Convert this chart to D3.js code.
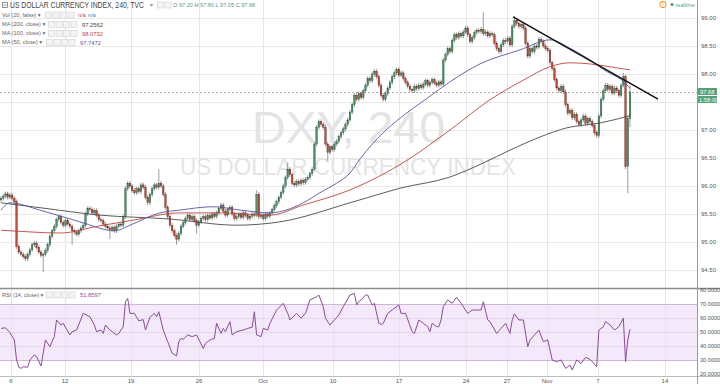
<!DOCTYPE html>
<html><head><meta charset="utf-8">
<script src="https://cdn.jsdelivr.net/npm/d3@7"></script>
<style>body{margin:0;background:#fff}svg{display:block;font-family:"Liberation Sans",Arial,"DejaVu Sans",sans-serif}</style>
</head><body><svg id="c" width="720" height="384"></svg>
<script>
// ---- data (4h bars, index 0..283) ----
const firstOpen = 95.75;
const closes = [
95.78,95.82,95.86,95.80,95.84,95.78,95.72,94.92,94.82,94.78,
94.74,94.70,94.78,94.86,94.95,94.98,94.90,94.82,94.76,94.78,
94.85,94.95,95.10,95.20,95.28,95.40,95.45,95.35,95.30,95.38,
95.32,95.28,95.20,95.18,95.14,95.20,95.25,95.30,95.50,95.60,
95.58,95.52,95.56,95.48,95.40,95.38,95.32,95.28,95.25,95.22,
95.26,95.20,95.28,95.32,95.30,95.45,95.95,96.05,96.00,95.92,
95.88,95.95,95.90,96.02,95.98,95.80,95.70,95.85,95.95,96.02,
95.98,96.05,96.00,95.85,95.62,95.45,95.30,95.20,95.12,95.05,
95.15,95.28,95.35,95.42,95.48,95.40,95.45,95.38,95.30,95.36,
95.42,95.45,95.40,95.47,95.43,95.50,95.46,95.52,95.60,95.66,
95.55,95.48,95.58,95.62,95.50,95.42,95.45,95.50,95.44,95.52,
95.48,95.42,95.46,95.50,95.48,95.85,95.45,95.48,95.42,95.50,
95.46,95.52,95.58,95.65,95.72,95.80,95.88,96.00,96.15,96.30,
96.20,96.05,96.02,96.08,96.04,96.10,96.06,96.12,96.15,96.22,
96.30,96.75,97.05,97.15,97.10,97.05,96.75,96.60,96.70,96.65,
96.75,96.80,96.88,96.95,97.02,97.10,97.18,97.32,97.45,97.62,
97.55,97.65,97.58,97.70,97.80,97.92,97.88,98.00,98.05,97.95,
97.80,97.62,97.55,97.65,97.75,97.85,97.95,98.02,98.08,97.98,
98.02,97.92,97.85,97.78,97.72,97.70,97.78,97.74,97.80,97.76,
97.82,97.88,97.80,97.85,97.90,97.84,97.80,97.86,97.82,98.25,
98.35,98.45,98.40,98.60,98.70,98.65,98.72,98.68,98.75,98.82,
98.70,98.58,98.65,98.74,98.78,98.76,98.80,98.72,98.75,98.68,
98.72,98.70,98.55,98.45,98.40,98.52,98.60,98.58,98.64,98.52,
98.85,98.95,98.90,98.85,98.88,98.82,98.55,98.32,98.45,98.40,
98.50,98.48,98.62,98.58,98.50,98.45,98.42,98.20,98.10,97.90,
97.75,97.70,97.78,97.68,97.45,97.30,97.35,97.22,97.28,97.15,
97.10,97.18,97.25,97.12,97.20,97.15,97.08,96.95,96.90,97.25,
97.55,97.70,97.80,97.72,97.78,97.66,97.75,97.70,97.62,97.80,
97.95,96.35,97.20,97.68];
const wickSize = 0.04;
const spikeHighs = [[71,96.30],[115,95.92],[129,96.42],[217,99.10],[231,99.04],[280,98.02],[282,97.25],[283,97.80]];
const spikeLows = [[19,94.46],[32,94.95],[49,95.05],[79,94.95],[88,95.15],[147,96.45],[281,96.30],[282,95.87],[283,97.05]];

const ma200 = [[0,95.70],[18,95.61],[44.5,95.48],[76,95.41],[106,95.30],[125.5,95.36],[157,95.70],[164.7,95.79],[179.5,95.96],[202,96.16],[216.9,96.41],[229,96.64],[242.5,96.875],[254.7,97.04],[269.5,97.125],[283,97.2562]];
const ma100 = [[0,95.21],[13,95.18],[26.5,95.16],[44.5,95.29],[59.4,95.39],[80.5,95.52],[98.5,95.52],[121,95.48],[136,95.66],[157,95.93],[182.7,96.46],[202,97.00],[220,97.54],[235,97.89],[247,98.13],[256,98.20],[265,98.18],[277,98.11],[283,98.0732]];
const ma50 = [[0,95.57],[4,95.70],[17.5,95.57],[35.5,95.36],[51.3,95.20],[58,95.30],[71.5,95.52],[80.5,95.57],[95.4,95.63],[107.5,95.57],[121,95.52],[136,95.70],[143.5,95.88],[151,96.05],[157,96.23],[161.5,96.48],[171.9,96.95],[179.5,97.21],[190.8,97.54],[202,97.86],[215.5,98.18],[233.5,98.43],[247,98.61],[256,98.46],[265,98.25],[272.7,98.04],[279,97.90],[283,97.7472]];

const rsi = [[0,52.6],[2,53.0],[4,49.5],[6,44.3],[7,30.0],[8,24.8],[9,24.0],[10,25.2],[12,24.8],[13,30.0],[15,33.6],[16,32.4],[18,25.7],[20,44.3],[22,39.5],[24,46.7],[25,58.6],[27,55.0],[28,56.2],[31,47.9],[32,50.2],[34,51.4],[37,63.3],[40,60.9],[42,55.0],[43,50.2],[45,51.4],[46,49.0],[47,55.0],[49,51.4],[52,47.9],[53,49.0],[55,53.8],[56,71.7],[57,74.0],[58,63.3],[60,63.3],[62,58.0],[64,58.8],[65,51.4],[67,60.5],[69,63.3],[70,60.9],[71,64.5],[73,51.4],[75,43.1],[77,34.8],[79,32.9],[80,43.1],[81,45.5],[82,44.8],[84,47.9],[86,46.7],[88,47.9],[91,38.3],[92,41.9],[94,44.3],[96,45.5],[97,56.2],[99,49.0],[100,52.6],[101,50.2],[103,57.4],[104,47.9],[106,50.2],[109,51.4],[111,52.6],[113,53.4],[114,64.5],[115,47.9],[117,46.7],[118,52.6],[120,51.4],[121,56.2],[124,65.7],[127,70.5],[129,63.3],[130,58.6],[133,63.3],[135,59.8],[137,63.3],[139,72.9],[142,75.2],[143,76.4],[145,68.1],[146,59.8],[148,55.0],[150,58.6],[152,62.1],[154,68.1],[157,76.4],[159,77.6],[160,69.3],[161,71.7],[162,72.9],[164,76.4],[165,76.4],[167,69.3],[168,70.5],[170,56.2],[171,55.5],[172,56.2],[174,63.3],[176,65.7],[179,69.3],[180,63.3],[182,63.3],[185,50.2],[186,49.0],[188,58.6],[190,56.2],[192,53.8],[193,50.2],[194,56.2],[196,53.8],[197,53.8],[198,58.6],[199,68.1],[201,72.9],[203,70.5],[205,74.8],[207,70.5],[210,63.3],[212,65.7],[216,65.7],[217,71.7],[219,58.6],[220,57.4],[223,49.0],[225,52.6],[227,56.2],[229,49.0],[230,58.6],[231,62.9],[233,58.6],[235,58.6],[237,39.5],[238,44.3],[242,51.4],[244,43.1],[246,44.3],[248,30.0],[250,28.8],[252,30.0],[254,24.0],[256,26.4],[257,22.9],[259,30.0],[261,27.6],[263,31.9],[265,30.5],[268,25.2],[269,51.4],[271,53.8],[272,57.4],[274,55.0],[276,51.4],[278,53.8],[280,59.8],[281,28.8],[282,44.3],[283,51.8597]];

const trend = [[230.4,99.02],[295.6,97.55]];
const lastPrice = 97.68;
const priceTicks = [94.5,95,95.5,96,96.5,97,97.5,98,98.5,99];
const priceLabelTicks = [94.5,95,95.5,96,96.5,97,98,98.5,99];
const rsiTicks = [20,30,40,50,60,70,80];
const dateTickBars = [4.5,28.8,58.5,89.1,117.9,149.4,179.1,209.2,227.7,245.7,268.6,298.7];
const dateTickLabels = ["6","12","19","26","Oct","10","17","24","27","Nov","7","14"];

// ---- drawing ----
const svg = d3.select("#c");
const axisX = 697, paneBottom = 288, bottom = 376;
const x = d3.scaleLinear().domain([0,283]).range([1,630]);
const y = d3.scaleLinear().domain([94.5,99]).range([270,18]);
const yr = d3.scaleLinear().domain([20,80]).range([374,290]);

const defs = svg.append("defs");
defs.append("clipPath").attr("id","pc").append("rect").attr("x",0).attr("y",0).attr("width",axisX).attr("height",paneBottom);
defs.append("clipPath").attr("id","rc").append("rect").attr("x",0).attr("y",paneBottom).attr("width",axisX).attr("height",bottom-paneBottom);

// RSI band
svg.append("rect").attr("x",0).attr("width",axisX).attr("y",yr(70)).attr("height",yr(30)-yr(70)).attr("fill","#f4e8fb");

// grids
const g = svg.append("g");
g.selectAll(".vg").data(dateTickBars).join("line")
 .attr("x1",d=>Math.round(x(d))+0.5).attr("x2",d=>Math.round(x(d))+0.5).attr("y1",0).attr("y2",bottom)
 .attr("stroke","#e6e6e6").attr("stroke-width",1);
g.selectAll(".hg").data(priceTicks).join("line")
 .attr("x1",0).attr("x2",axisX).attr("y1",d=>Math.round(y(d))+0.5).attr("y2",d=>Math.round(y(d))+0.5)
 .attr("stroke","#e9e9e9");
g.selectAll(".rg").data(rsiTicks.filter(d=>d>20&&d<80)).join("line")
 .attr("x1",0).attr("x2",axisX).attr("y1",d=>Math.round(yr(d))+0.5).attr("y2",d=>Math.round(yr(d))+0.5)
 .attr("stroke",d=>(d===30||d===70)?"#cdb6d8":"#e3d7ea");

// watermark
svg.append("text").attr("x",252).attr("y",143).attr("font-size",44).attr("fill","#e4e4e4")
 .attr("textLength",193).attr("lengthAdjust","spacingAndGlyphs").text("DXY, 240");
svg.append("text").attr("x",180).attr("y",175).attr("font-size",24).attr("fill","#e4e4e4")
 .attr("textLength",336).attr("lengthAdjust","spacingAndGlyphs").text("US DOLLAR CURRENCY INDEX");

// last price dashed line
svg.append("line").attr("x1",0).attr("x2",axisX).attr("y1",Math.round(y(lastPrice))+0.5).attr("y2",Math.round(y(lastPrice))+0.5)
 .attr("stroke","#9a9a9a").attr("stroke-dasharray","2,2").attr("stroke-width",0.8);

// candles
const bars = closes.map((c,i)=>{
  const o = i===0 ? firstOpen : closes[i-1];
  return {i,o,c,h:Math.max(o,c)+wickSize,l:Math.min(o,c)-wickSize};
});
spikeHighs.forEach(([i,v])=>bars[i].h=v);
spikeLows.forEach(([i,v])=>bars[i].l=v);
const pc = svg.append("g").attr("clip-path","url(#pc)");
const bw = 1.6;
pc.selectAll(".wk").data(bars).join("line")
 .attr("x1",d=>x(d.i)).attr("x2",d=>x(d.i)).attr("y1",d=>y(d.h)).attr("y2",d=>y(d.l))
 .attr("stroke","#737375").attr("stroke-width",0.7);
pc.selectAll(".bd").data(bars).join("rect")
 .attr("x",d=>x(d.i)-bw/2).attr("width",bw)
 .attr("y",d=>y(Math.max(d.o,d.c))).attr("height",d=>Math.max(0.8,Math.abs(y(d.o)-y(d.c))))
 .attr("fill",d=>d.c>=d.o?"#4b8f66":"#c04b3c")
 .attr("stroke",d=>d.c>=d.o?"#225437":"#5b1a13").attr("stroke-width",0.35);

// MAs
const maLine = d3.line().x(d=>x(d[0])).y(d=>y(d[1])).curve(d3.curveMonotoneX);
pc.append("path").attr("d",maLine(ma200)).attr("fill","none").attr("stroke","#4a4a4a").attr("stroke-width",0.9);
pc.append("path").attr("d",maLine(ma100)).attr("fill","none").attr("stroke","#c0453f").attr("stroke-width",0.9);
pc.append("path").attr("d",maLine(ma50)).attr("fill","none").attr("stroke","#5656a4").attr("stroke-width",0.9);

// trend line
pc.append("line").attr("x1",x(trend[0][0])).attr("y1",y(trend[0][1])).attr("x2",x(trend[1][0])).attr("y2",y(trend[1][1]))
 .attr("stroke","#111").attr("stroke-width",1.5);

// RSI line
const rc = svg.append("g").attr("clip-path","url(#rc)");
rc.append("path").attr("d",d3.line().x(d=>x(d[0])).y(d=>yr(d[1]))(rsi)).attr("fill","none").attr("stroke","#8a4d96").attr("stroke-width",1);

// pane borders
svg.append("line").attr("x1",0).attr("x2",axisX+23).attr("y1",paneBottom+0.5).attr("y2",paneBottom+0.5).attr("stroke","#8c8c8c").attr("stroke-width",1.3);
svg.append("line").attr("x1",0).attr("x2",axisX+23).attr("y1",bottom+0.5).attr("y2",bottom+0.5).attr("stroke","#bdbdbd");
svg.append("line").attr("x1",axisX+0.5).attr("x2",axisX+0.5).attr("y1",0).attr("y2",384).attr("stroke","#9a9a9a");

// right axis labels
svg.selectAll(".pl").data(priceLabelTicks).join("text")
 .attr("x",701).attr("y",d=>y(d)).attr("dy","0.35em").attr("font-size",6).attr("fill","#555").text(d=>d.toFixed(2));
svg.selectAll(".rl").data(rsiTicks).join("text")
 .attr("x",700).attr("y",d=>yr(d)).attr("dy","0.35em").attr("font-size",5.6).attr("fill","#555").text(d=>d.toFixed(4));
svg.append("rect").attr("x",698).attr("y",88).attr("width",19).attr("height",7).attr("fill","#55a077");
svg.append("text").attr("x",700).attr("y",91.6).attr("dy","0.35em").attr("font-size",5.8).attr("fill","#fff").text(lastPrice.toFixed(2));
svg.append("rect").attr("x",698).attr("y",96).attr("width",19).attr("height",7).attr("fill","#55a077");
svg.append("text").attr("x",699).attr("y",99.6).attr("dy","0.35em").attr("font-size",5.8).attr("fill","#fff").text("1:58:00");

// date labels
svg.selectAll(".dl").data(dateTickBars).join("text")
 .attr("x",d=>x(d)).attr("y",381).attr("dy","0.35em").attr("text-anchor","middle").attr("font-size",6).attr("fill","#555")
 .text((d,i)=>dateTickLabels[i]);

// header
function boxes(x0,yc,n){for(let k=0;k<n;k++){svg.append("rect").attr("x",x0+k*7.5+0.5).attr("y",yc-3).attr("width",6).attr("height",6).attr("fill","#f4f4f4").attr("stroke","#cfcfcf").attr("stroke-width",0.6);}}
svg.append("rect").attr("x",2.5).attr("y",2.5).attr("width",5).attr("height",5).attr("fill","none").attr("stroke","#666").attr("stroke-width",0.7);
svg.append("line").attr("x1",3.5).attr("x2",6.5).attr("y1",5).attr("y2",5).attr("stroke","#666").attr("stroke-width",0.7);
svg.append("text").attr("x",10).attr("y",8.3).attr("font-size",8.2).attr("fill","#444")
 .attr("textLength",134).attr("lengthAdjust","spacingAndGlyphs").text("US DOLLAR CURRENCY INDEX, 240, TVC");
svg.append("path").attr("d","M149.5,4.2 L153.5,4.2 L151.5,6.6 Z").attr("fill","#888");
boxes(157,5,2);
const ohlc = [["O","97.20"],["H","97.80"],["L","97.05"],["C","97.68"]];
const ot = svg.append("text").attr("x",173).attr("y",7.3).attr("font-size",5.6);
ohlc.forEach(([k,v],i)=>{ot.append("tspan").attr("fill","#777").text((i?" ":"")+k+" ");ot.append("tspan").attr("fill","#5a9e78").text(v);});

const studies = [
 {name:"Vol (20, false)", y:15, vals:[["n/a","#c0453f"],["n/a","#4a7fc0"]], bx:45, tx:78},
 {name:"MA (200, close)", y:24.5, vals:[["97.2562","#444"]], bx:48, tx:82},
 {name:"MA (100, close)", y:33.5, vals:[["98.0732","#c0453f"]], bx:48, tx:82},
 {name:"MA (50, close)", y:42.5, vals:[["97.7472","#5656a4"]], bx:46, tx:80},
 {name:"RSI (14, close)", y:295, vals:[["51.8597","#8a4d96"]], bx:46, tx:80}
];
studies.forEach(s=>{
  svg.append("text").attr("x",2).attr("y",s.y).attr("dy","0.35em").attr("font-size",5.6).attr("fill","#666").text(s.name+" ▾");
  boxes(s.bx,s.y,4);
  const t = svg.append("text").attr("x",s.tx).attr("y",s.y).attr("dy","0.35em").attr("font-size",5.8);
  s.vals.forEach(([v,c],i)=>t.append("tspan").attr("fill",c).text((i?" ":"")+v));
});

// top-right status
svg.append("circle").attr("cx",663).attr("cy",4.5).attr("r",3.2).attr("fill","#fff").attr("stroke","#f0902a").attr("stroke-width",1);
svg.append("text").attr("x",663).attr("y",4.6).attr("dy","0.35em").attr("text-anchor","middle").attr("font-size",4.5).attr("fill","#f0902a").attr("font-weight","bold").text("!");
svg.append("circle").attr("cx",672).attr("cy",4.5).attr("r",1.5).attr("fill","#3f9a6a");
svg.append("text").attr("x",675.5).attr("y",4.6).attr("dy","0.35em").attr("font-size",5.5).attr("fill","#5aa37d").text("realtime");
</script></body></html>
